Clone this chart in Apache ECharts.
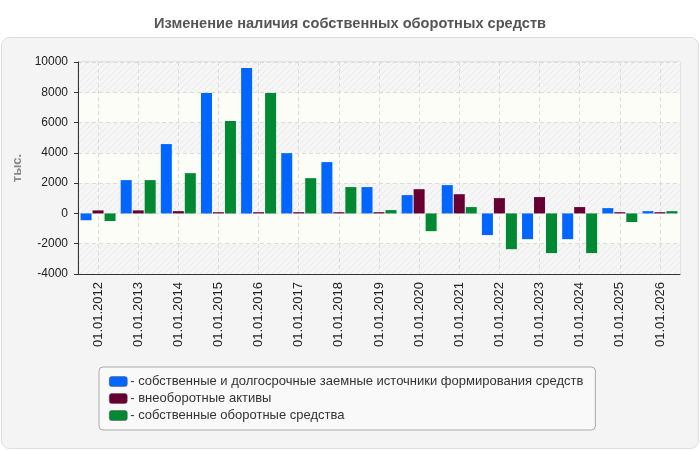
<!DOCTYPE html>
<html>
<head>
<meta charset="utf-8">
<script src="https://cdn.jsdelivr.net/npm/echarts@6/dist/echarts.min.js"></script>
<style>
  html, body { margin: 0; padding: 0; background: #fff; }
  #chart { width: 700px; height: 450px; }
</style>
</head>
<body>
<div id="chart"></div>
<script>
// даты отчётов
const dates = [
  "01.01.2012", "01.01.2013", "01.01.2014", "01.01.2015", "01.01.2016",
  "01.01.2017", "01.01.2018", "01.01.2019", "01.01.2020", "01.01.2021",
  "01.01.2022", "01.01.2023", "01.01.2024", "01.01.2025", "01.01.2026",
];

// тыс.
const ownLongTerm = [-450, 2200, 4580, 7950, 9600, 3980, 3390, 1740, 1210, 1870, -1430, -1700, -1700, 350, 150];
const nonCurrent = [200, 200, 150, 80, 80, 80, 80, 80, 1600, 1270, 1010, 1080, 420, 80, 80];
const workingCapital = [-500, 2200, 2660, 6100, 7950, 2330, 1740, 220, -1170, 420, -2360, -2620, -2620, -570, 150];

const seriesNames = [
  "собственные и долгосрочные заемные источники формирования средств",
  "внеоборотные активы",
  "собственные оборотные средства",
];
const colors = ["#0066ff", "#660033", "#008833"];

// штриховка для полос сетки
function hatch() {
  const c = document.createElement("canvas");
  c.width = 6;
  c.height = 6;
  const g = c.getContext("2d");
  g.fillStyle = "#f6f6f6";
  g.fillRect(0, 0, 6, 6);
  g.strokeStyle = "#e9e9e9";
  g.lineWidth = 1;
  g.beginPath();
  g.moveTo(0, 6);
  g.lineTo(6, 0);
  g.moveTo(-3, 3);
  g.lineTo(3, -3);
  g.moveTo(3, 9);
  g.lineTo(9, 3);
  g.stroke();
  return { image: c, repeat: "repeat" };
}

const font = "'Liberation Sans', Arial, sans-serif";
const chart = echarts.init(document.getElementById("chart"));

const barStyle = (i) => ({
  name: seriesNames[i],
  type: "bar",
  barWidth: 11,
  barGap: "9%",
  itemStyle: { color: colors[i] },
});

chart.setOption({
  animation: false,
  textStyle: { fontFamily: font },
  title: {
    text: "Изменение наличия собственных оборотных средств",
    left: "center",
    top: 11,
    textStyle: { fontSize: 14.6, fontWeight: "bold", color: "#555", fontFamily: font },
  },
  graphic: [
    {
      type: "rect",
      z: -100,
      shape: { x: 1.5, y: 37.5, width: 697, height: 411, r: 8 },
      style: { fill: "#f4f4f4", stroke: "#dddddd", lineWidth: 1 },
    },
  ],
  grid: {
    left: 78,
    right: 20,
    top: 62,
    bottom: 176,
    show: true,
    borderColor: "#d0d0d0",
    borderWidth: 1,
  },
  legend: {
    orient: "vertical",
    left: 99,
    top: 367,
    padding: [8, 12, 8, 10],
    itemGap: 4,
    itemWidth: 18,
    itemHeight: 10,
    icon: "roundRect",
    backgroundColor: "#f9f9f9",
    borderColor: "#aaaaaa",
    borderWidth: 1,
    borderRadius: 4,
    formatter: "- {name}",
    textStyle: { fontSize: 13, color: "#333", fontFamily: font, padding: [0, 0, 0, -2] },
    itemStyle: { borderColor: "#555", borderWidth: 0.5 },
  },
  xAxis: {
    type: "category",
    data: dates,
    axisLine: { onZero: false, lineStyle: { color: "#333" } },
    axisTick: { alignWithLabel: true, length: 5, lineStyle: { color: "#333" } },
    axisLabel: { rotate: 90, fontSize: 13, color: "#222", margin: 8 },
    splitLine: { show: true, alignWithLabel: true, lineStyle: { color: "#dcdcdc", type: [4, 3] } },
  },
  yAxis: {
    type: "value",
    min: -4000,
    max: 10000,
    interval: 2000,
    name: "тыс.",
    nameLocation: "middle",
    nameGap: 50,
    nameTextStyle: { fontSize: 13, fontWeight: "bold", color: "#888" },
    axisLine: { show: true, lineStyle: { color: "#333" } },
    axisTick: { show: true, length: 4, lineStyle: { color: "#333" } },
    axisLabel: { fontSize: 12, color: "#222", margin: 10, formatter: (v) => String(v) },
    splitLine: { lineStyle: { color: "#dcdcdc", type: [4, 3] } },
    splitArea: { show: true, areaStyle: { color: [hatch(), "#fdfdf7"] } },
  },
  series: [
    { ...barStyle(0), data: ownLongTerm },
    { ...barStyle(1), data: nonCurrent },
    { ...barStyle(2), data: workingCapital },
  ],
});
</script>
</body>
</html>
